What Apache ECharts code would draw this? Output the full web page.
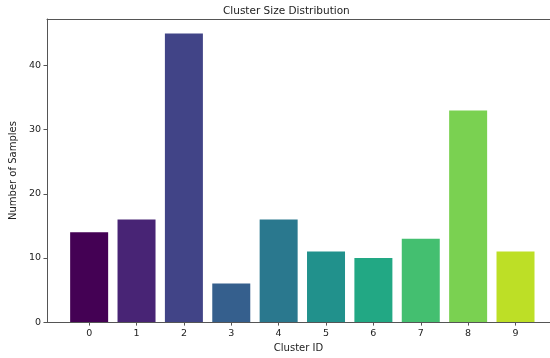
<!DOCTYPE html>
<html>
<head>
<meta charset="utf-8">
<script src="https://cdn.jsdelivr.net/npm/echarts@6/dist/echarts.min.js"></script>
<style>html,body{margin:0;padding:0;background:#fff}#c{width:550px;height:358px}</style>
</head>
<body>
<div id="c"></div>
<script>
var clusterIds = [0, 1, 2, 3, 4, 5, 6, 7, 8, 9];
var sampleCounts = [14, 16, 45, 6, 16, 11, 10, 13, 33, 11];
var barColors = ['#440154', '#482475', '#414487', '#355f8d', '#2a788e', '#21918c', '#22a884', '#44bf70', '#7ad151', '#bddf26'];
var yTicks = [0, 10, 20, 30, 40];

var font = 'DejaVu Sans';
var xMin = -0.89, xMax = 9.728;
var chart = echarts.init(document.getElementById('c'), null, {renderer: 'canvas'});
chart.setOption({
  animation: false,
  title: {
    text: 'Cluster Size Distribution',
    left: 223, top: 6, padding: 0,
    textStyle: {fontFamily: font, fontSize: 10.5, fontWeight: 'normal', color: '#222'}
  },
  grid: {left: 45, top: 19, right: 0, height: 307, show: false},
  xAxis: [{
    type: 'value', min: xMin, max: xMax,
    name: 'Cluster ID', nameLocation: 'middle', nameGap: 19,
    nameTextStyle: {fontFamily: font, fontSize: 10, color: '#222'},
    axisLine: {show: true, onZero: false, lineStyle: {color: '#555', width: 1}},
    axisTick: {show: true, length: 3.5, customValues: clusterIds, lineStyle: {color: '#555'}},
    axisLabel: {customValues: clusterIds, margin: 6, fontFamily: font, fontSize: 9.5, color: '#222'},
    splitLine: {show: false}
  }, {
    type: 'value', min: xMin, max: xMax, position: 'top',
    axisLine: {show: true, onZero: false, lineStyle: {color: '#555', width: 1}},
    axisTick: {show: false}, axisLabel: {show: false}, splitLine: {show: false}
  }],
  yAxis: {
    type: 'value', min: 0, max: 47.25,
    name: 'Number of Samples', nameLocation: 'middle', nameGap: 23,
    nameTextStyle: {fontFamily: font, fontSize: 10, color: '#222'},
    axisLine: {show: true, onZero: false, lineStyle: {color: '#555', width: 1}},
    axisTick: {show: true, length: 3.5, customValues: yTicks, lineStyle: {color: '#555'}},
    axisLabel: {customValues: yTicks, margin: 6, fontFamily: font, fontSize: 9.5, color: '#222'},
    splitLine: {show: false}
  },
  series: [{
    type: 'bar',
    barWidth: 38,
    data: clusterIds.map(function (id, i) {
      return {value: [id, sampleCounts[i]], itemStyle: {color: barColors[i]}};
    })
  }]
});
</script>
</body>
</html>
